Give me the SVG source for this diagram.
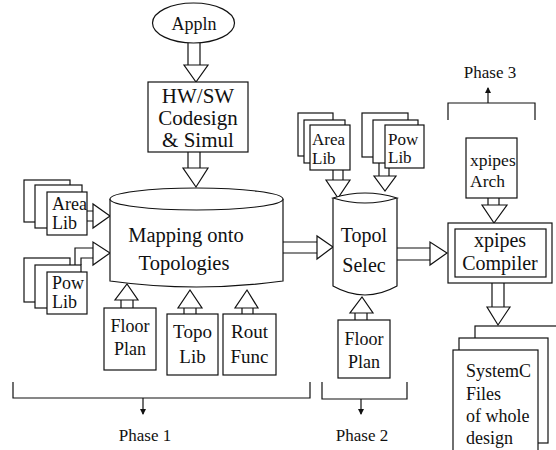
<svg xmlns="http://www.w3.org/2000/svg" width="556" height="450" viewBox="0 0 556 450" font-family="Liberation Serif, Times New Roman, DejaVu Serif, serif">
<defs>
<marker id="ah" viewBox="0 0 6 8" refX="5" refY="4" markerWidth="6" markerHeight="8" orient="auto" markerUnits="userSpaceOnUse">
<path d="M0,1 L6,4 L0,7 Z" fill="#111"/>
</marker>
<style>
.s{fill:#fff;stroke:#111;stroke-width:1.2}
.l{fill:none;stroke:#111;stroke-width:1.2}
text{font-family:'Liberation Serif','Times New Roman','DejaVu Serif',serif;fill:#111}
.c{text-anchor:middle}
</style>
</defs>
<rect width="556" height="450" fill="#fff"/>

<g id="connectors">
<path class="l" d="M188,43 V65 M200,43 V65"/>
<path class="s" d="M184,65 H208 L196,82 Z"/>
<path class="l" d="M188,152 V168 M200,152 V168"/>
<path class="s" d="M183,168 H208 L196,187 Z"/>
<path class="l" d="M87,211 H93 M87,221 H93"/>
<path class="s" d="M93,204 V228 L110,216 Z"/>
<path class="l" d="M75,265 V248 H93 M81,265 V258 H93"/>
<path class="s" d="M93,242 V265 L110,253 Z"/>
<path class="l" d="M121,300 V308 M133,300 V308"/>
<path class="s" d="M115,300 H138 L127,284 Z"/>
<path class="l" d="M184,308 V314 M196,308 V314"/>
<path class="s" d="M178,308 H202 L190,290 Z"/>
<path class="l" d="M242,308 V314 M253,308 V314"/>
<path class="s" d="M235,308 H258 L247,290 Z"/>
<path class="l" d="M283,242 H317 M283,253 H317"/>
<path class="s" d="M317,236 V259 L333,247 Z"/>
<path class="l" d="M333,170 V180 M343,170 V180"/>
<path class="s" d="M326,180 H350 L338,198 Z"/>
<path class="l" d="M379,163 V176 M389,163 V176"/>
<path class="s" d="M374,176 H396 L385,191 Z"/>
<path class="l" d="M355,313 V320 M367,313 V320"/>
<path class="s" d="M350,313 H373 L362,297 Z"/>
<path class="l" d="M397,248 H430 M397,260 H430"/>
<path class="s" d="M430,242 V265 L447,253 Z"/>
<path class="l" d="M488,198 V205 M499,198 V205"/>
<path class="s" d="M482,205 H507 L494,223 Z"/>
<path class="l" d="M492,283 V307 M504,283 V307"/>
<path class="s" d="M487,307 H510 L498,325 Z"/>
<path class="l" d="M13,382 V398 H310 V382"/>
<path class="l" d="M143,398 V414" marker-end="url(#ah)"/>
<path class="l" d="M322,382 V399 H407 V382"/>
<path class="l" d="M361,399 V414" marker-end="url(#ah)"/>
<path class="l" d="M448,120 V103 H535 V120"/>
<path class="l" d="M488,103 V88" marker-end="url(#ah)"/>
</g>

<g id="appln">
<ellipse class="s" cx="193.5" cy="23" rx="41" ry="20"/>
<text class="c" x="194" y="30" font-size="18">Appln</text>
</g>

<g id="hwsw">
<rect class="s" x="148" y="82" width="100" height="70"/>
<text class="c" x="198" y="103" font-size="21">HW/SW</text>
<text class="c" x="198" y="125" font-size="21">Codesign</text>
<text class="c" x="198" y="147" font-size="21">&amp; Simul</text>
</g>

<g id="mapping">
<path class="s" d="M110,199 V281 Q196.5,293 283,281 V199"/>
<ellipse class="s" cx="196.5" cy="199" rx="86.5" ry="11"/>
<text class="c" x="186" y="242" font-size="20.5">Mapping onto</text>
<text class="c" x="184" y="270" font-size="20.5">Topologies</text>
</g>

<g id="arealib1">
<rect class="s" x="24" y="180" width="46" height="42"/>
<rect class="s" x="35" y="185" width="47" height="43"/>
<rect class="s" x="47" y="192" width="40" height="43"/>
<text x="52" y="210" font-size="18">Area</text>
<text x="52" y="229" font-size="18">Lib</text>
</g>

<g id="powlib1">
<rect class="s" x="24" y="258" width="46" height="44"/>
<rect class="s" x="35" y="265" width="46" height="43"/>
<rect class="s" x="47" y="272" width="40" height="42"/>
<text x="52" y="289" font-size="18">Pow</text>
<text x="52" y="308" font-size="18">Lib</text>
</g>

<g id="floorplan1">
<rect class="s" x="104" y="308" width="52" height="62"/>
<text class="c" x="130" y="332" font-size="18">Floor</text>
<text class="c" x="130" y="355" font-size="18">Plan</text>
</g>

<g id="topolib">
<rect class="s" x="167" y="314" width="51" height="61"/>
<text class="c" x="192.5" y="338" font-size="19">Topo</text>
<text class="c" x="192.5" y="363" font-size="19">Lib</text>
</g>

<g id="routfunc">
<rect class="s" x="223" y="314" width="53" height="61"/>
<text class="c" x="249.5" y="338" font-size="19">Rout</text>
<text class="c" x="249.5" y="363" font-size="19">Func</text>
</g>

<g id="arealib2">
<rect class="s" x="298" y="113" width="35" height="43"/>
<rect class="s" x="304" y="120" width="41" height="43"/>
<rect class="s" x="310" y="125" width="40" height="45"/>
<text x="312" y="145" font-size="17">Area</text>
<text x="312" y="164" font-size="17">Lib</text>
</g>

<g id="powlib2">
<rect class="s" x="362" y="113" width="46" height="44"/>
<rect class="s" x="373" y="120" width="45" height="43"/>
<rect class="s" x="385" y="125" width="39" height="43"/>
<text x="388" y="145" font-size="17">Pow</text>
<text x="388" y="163" font-size="17">Lib</text>
</g>

<g id="topol">
<path class="s" d="M333,198 V286 Q365,304 397,286 V198"/>
<path class="s" d="M333,198 Q365,188 397,198 Q365,208 333,198 Z"/>
<text class="c" x="364" y="242" font-size="20">Topol</text>
<text class="c" x="364" y="272" font-size="20">Selec</text>
</g>

<g id="floorplan2">
<rect class="s" x="338" y="320" width="52" height="58"/>
<text class="c" x="364" y="345" font-size="18">Floor</text>
<text class="c" x="364" y="368" font-size="18">Plan</text>
</g>

<g id="arch">
<rect class="s" x="466" y="138" width="51" height="60"/>
<text x="470" y="166" font-size="17.5">xpipes</text>
<text x="470" y="187" font-size="17.5">Arch</text>
</g>

<g id="compiler">
<rect class="s" x="448" y="223" width="104" height="60"/>
<rect class="s" x="455" y="229" width="91" height="48" stroke-width="1.6"/>
<text class="c" x="500" y="247" font-size="20">xpipes</text>
<text class="c" x="500" y="270" font-size="20">Compiler</text>
</g>

<g id="systemc">
<rect class="s" x="475" y="326" width="90" height="130"/>
<rect class="s" x="459" y="338" width="89" height="105"/>
<rect class="s" x="453" y="350" width="85" height="110"/>
<text x="466" y="377" font-size="18">SystemC</text>
<text x="466" y="400" font-size="18">Files</text>
<text x="466" y="422" font-size="18">of whole</text>
<text x="466" y="444" font-size="18">design</text>
</g>

<g id="phases">
<text class="c" x="145" y="441" font-size="17">Phase 1</text>
<text class="c" x="362" y="441" font-size="17">Phase 2</text>
<text class="c" x="490" y="78" font-size="17">Phase 3</text>
</g>
</svg>
